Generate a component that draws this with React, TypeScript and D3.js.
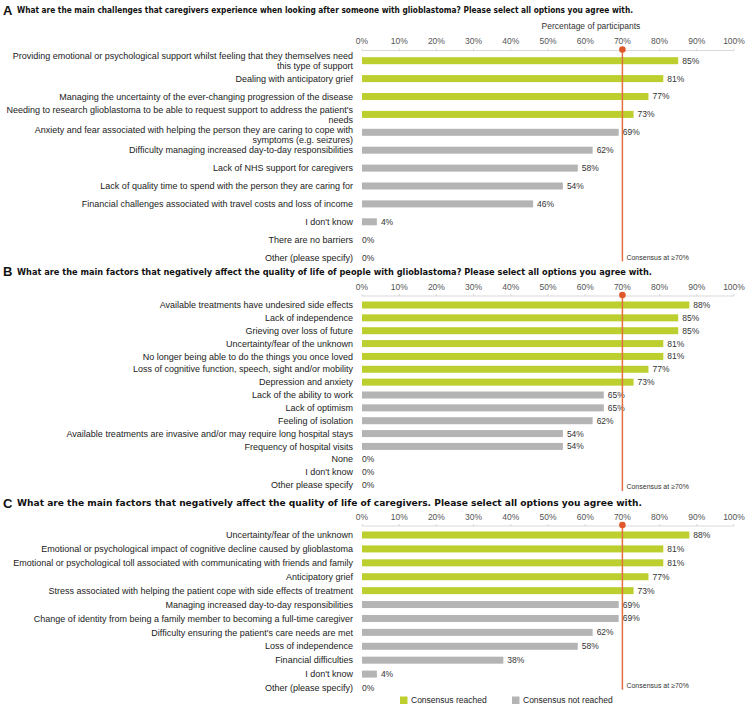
import React from "react";
import * as d3 from "d3";

const ticks = [0, 10, 20, 30, 40, 50, 60, 70, 80, 90, 100];
const threshold = 70;

const titleA = "What are the main challenges that caregivers experience when looking after someone with glioblastoma? Please select all options you agree with.";
const labelsA: string[][] = [
  ["Providing emotional or psychological support whilst feeling that they themselves need", "this type of support"],
  ["Dealing with anticipatory grief"],
  ["Managing the uncertainty of the ever-changing progression of the disease"],
  ["Needing to research glioblastoma to be able to request support to address the patient's", "needs"],
  ["Anxiety and fear associated with helping the person they are caring to cope with", "symptoms (e.g. seizures)"],
  ["Difficulty managing increased day-to-day responsibilities"],
  ["Lack of NHS support for caregivers"],
  ["Lack of quality time to spend with the person they are caring for"],
  ["Financial challenges associated with travel costs and loss of income"],
  ["I don't know"],
  ["There are no barriers"],
  ["Other (please specify)"],
];
const valuesA = [85, 81, 77, 73, 69, 62, 58, 54, 46, 4, 0, 0];

const titleB = "What are the main factors that negatively affect the quality of life of people with glioblastoma? Please select all options you agree with.";
const labelsB: string[][] = [
  ["Available treatments have undesired side effects"],
  ["Lack of independence"],
  ["Grieving over loss of future"],
  ["Uncertainty/fear of the unknown"],
  ["No longer being able to do the things you once loved"],
  ["Loss of cognitive function, speech, sight and/or mobility"],
  ["Depression and anxiety"],
  ["Lack of the ability to work"],
  ["Lack of optimism"],
  ["Feeling of isolation"],
  ["Available treatments are invasive and/or may require long hospital stays"],
  ["Frequency of hospital visits"],
  ["None"],
  ["I don't know"],
  ["Other please specify"],
];
const valuesB = [88, 85, 85, 81, 81, 77, 73, 65, 65, 62, 54, 54, 0, 0, 0];

const titleC = "What are the main factors that negatively affect the quality of life of caregivers. Please select all options you agree with.";
const labelsC: string[][] = [
  ["Uncertainty/fear of the unknown"],
  ["Emotional or psychological impact of cognitive decline caused by glioblastoma"],
  ["Emotional or psychological toll associated with communicating with friends and family"],
  ["Anticipatory grief"],
  ["Stress associated with helping the patient cope with side effects of treatment"],
  ["Managing increased day-to-day responsibilities"],
  ["Change of identity from being a family member to becoming a full-time caregiver"],
  ["Difficulty ensuring the patient's care needs are met"],
  ["Loss of independence"],
  ["Financial difficulties"],
  ["I don't know"],
  ["Other (please specify)"],
];
const valuesC = [88, 81, 81, 77, 73, 69, 69, 62, 58, 38, 4, 0];

const legendItems = ["Consensus reached", "Consensus not reached"];

const GREEN = "#bccf2e";
const GRAY = "#b4b4b4";
const ORANGE = "#e2703f";
const DOT = "#e0582a";
const FONT = "'Liberation Sans', Arial, Helvetica, sans-serif";
const NARROW = "'Liberation Sans Narrow', 'Arial Narrow', 'DejaVu Sans Condensed', 'Liberation Sans', Arial, sans-serif";

const x = d3.scaleLinear().domain([0, 100]).range([362, 734]);

type PanelProps = {
  letter: string;
  title: string;
  titleEnd: number;
  labels: string[][];
  values: number[];
  titleY: number;
  tickY: number;
  axisY: number;
  firstY: number;
  lastY: number;
  consY: number;
  showAxisTitle?: boolean;
};

function Panel(p: PanelProps) {
  const y = d3
    .scalePoint<number>()
    .domain(p.values.map((_, i) => i))
    .range([p.firstY, p.lastY]);
  const barH = 7;
  const titleX = 17;
  return (
    <g>
      <text x={3} y={p.titleY} dy="0.36em" fontFamily={FONT} fontWeight="bold" fontSize={13} fill="#111">
        {p.letter}
      </text>
      <text
        x={titleX}
        y={p.titleY}
        dy="0.35em"
        fontFamily={NARROW}
        fontWeight="bold"
        fontSize={9}
        fill="#111"
        textLength={p.titleEnd - titleX}
        lengthAdjust="spacingAndGlyphs"
      >
        {p.title}
      </text>
      {p.showAxisTitle && (
        <text x={591} y={26} dy="0.35em" textAnchor="middle" fontFamily={FONT} fontSize={8.5} fill="#333">
          Percentage of participants
        </text>
      )}
      {ticks.map((t) => (
        <g key={t}>
          <text x={x(t)} y={p.tickY} dy="0.35em" textAnchor="middle" fontFamily={FONT} fontSize={8.5} fill="#555">
            {t}%
          </text>
          <line x1={x(t)} x2={x(t)} y1={p.axisY - 2} y2={p.axisY} stroke="#cfcfcf" strokeWidth={0.8} />
        </g>
      ))}
      <line x1={x(0)} x2={x(100)} y1={p.axisY} y2={p.axisY} stroke="#cfcfcf" strokeWidth={0.8} />
      {p.values.map((v, i) => {
        const cy = y(i) as number;
        const lines = p.labels[i];
        const lh = 10;
        const prevMulti = i > 0 && p.labels[i - 1].length > 1 && lines.length > 1;
        const shift = prevMulti ? 2.5 : 0;
        return (
          <g key={i}>
            {lines.map((ln, j) => (
              <text
                key={j}
                x={353}
                y={cy + shift + (j - (lines.length - 1) / 2) * lh}
                dy="0.35em"
                textAnchor="end"
                fontFamily={FONT}
                fontSize={9}
                fill="#222"
              >
                {ln}
              </text>
            ))}
            {v > 0 && (
              <rect
                x={x(0)}
                y={cy - barH / 2}
                width={x(v) - x(0)}
                height={barH}
                fill={v >= threshold ? GREEN : GRAY}
              />
            )}
            <text
              x={x(v) + (v > 0 ? 4 : 0)}
              y={cy}
              dy="0.35em"
              fontFamily={FONT}
              fontSize={8.5}
              fill="#333"
            >
              {v}%
            </text>
          </g>
        );
      })}
      <line x1={x(threshold)} x2={x(threshold)} y1={p.axisY} y2={p.consY + 4} stroke={ORANGE} strokeWidth={1.5} />
      <circle cx={x(threshold)} cy={p.axisY - 1} r={3.3} fill={DOT} />
      <text x={x(threshold) + 4} y={p.consY} dy="0.35em" fontFamily={FONT} fontSize={7} fill="#333">
        Consensus at  ≥70%
      </text>
    </g>
  );
}

export default function App() {
  return (
    <svg width={749} height={706} style={{ position: "absolute", left: 0, top: 0, background: "#fff" }}>
      <rect x={0} y={0} width={749} height={706} fill="#fff" />
      <Panel
        letter="A"
        title={titleA}
        titleEnd={633}
        labels={labelsA}
        values={valuesA}
        titleY={10}
        tickY={40.7}
        axisY={50.5}
        firstY={60.7}
        lastY={257.6}
        consY={257.3}
        showAxisTitle
      />
      <Panel
        letter="B"
        title={titleB}
        titleEnd={652}
        labels={labelsB}
        values={valuesB}
        titleY={271.7}
        tickY={286.7}
        axisY={296}
        firstY={305}
        lastY={485}
        consY={487}
      />
      <Panel
        letter="C"
        title={titleC}
        titleEnd={642}
        labels={labelsC}
        values={valuesC}
        titleY={503.3}
        tickY={516.7}
        axisY={526}
        firstY={535}
        lastY={688}
        consY={685.7}
      />
      {legendItems.map((name, i) => {
        const lx = i === 0 ? 400 : 512;
        return (
          <g key={name}>
            <rect x={lx} y={696.5} width={7.5} height={7.5} fill={i === 0 ? GREEN : GRAY} />
            <text x={lx + 11} y={700.3} dy="0.35em" fontFamily={FONT} fontSize={8.5} fill="#222">
              {name}
            </text>
          </g>
        );
      })}
    </svg>
  );
}
